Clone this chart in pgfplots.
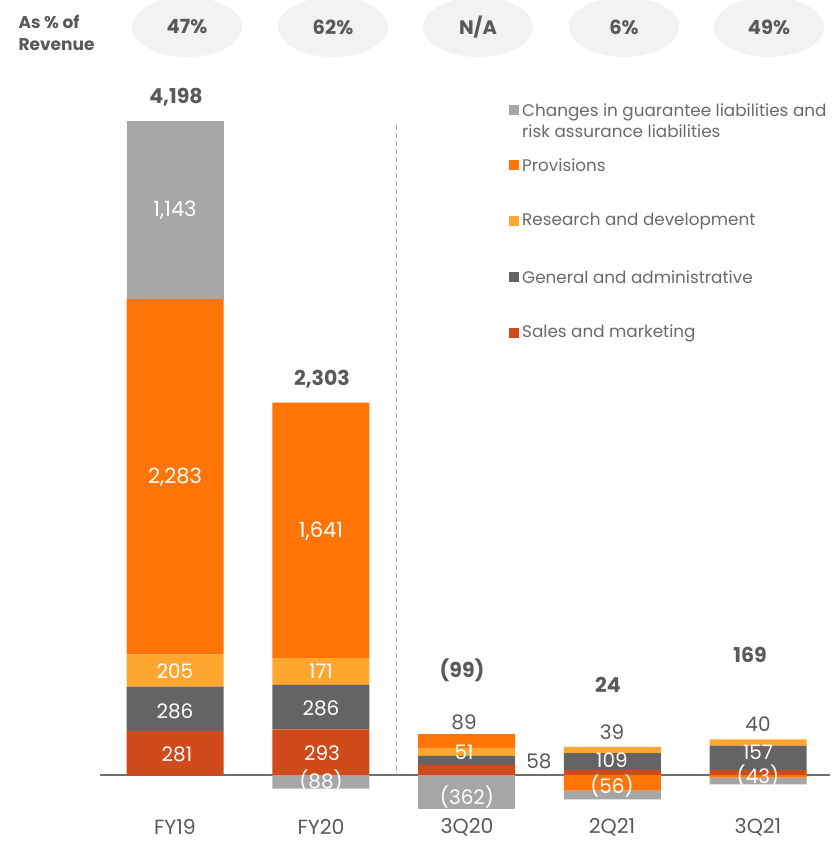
\documentclass[border=0pt]{standalone}
\usepackage{pgfplots}
\pgfplotsset{compat=1.18}
\usepackage{pgfplotstable}
\usepackage{fontspec}
\setmainfont{Poppins}
\definecolor{cChg}{HTML}{A6A6A6}
\definecolor{cProv}{HTML}{FF7407}
\definecolor{cRD}{HTML}{FFA62F}
\definecolor{cGA}{HTML}{646464}
\definecolor{cSM}{HTML}{D14A1B}
\definecolor{txt}{HTML}{595959}
\definecolor{legtxt}{HTML}{6A6A6A}
\definecolor{ell}{HTML}{F2F2F2}
\definecolor{base}{HTML}{6E6E6E}

\pgfplotstableread{
x sm ga rd prov chg
0 281 286 205 2283 1143
1 293 286 171 1641 0
2 65 58 51 89 0
3 32 109 39 0 0
4 32 157 40 0 0
}\pos
\pgfplotstableread{
x prov chg
0 0 0
1 0 -88
2 0 -362
3 -100 -56
4 -17 -43
}\negs

% pixel y 809 -> ymin, pixel y 0 -> ymax ; 6.419 units per pixel
\pgfplotsset{base/.style={scale only axis, width=730pt, height=809pt,
  xmin=-0.5146, xmax=4.494, ymin=-218.2, ymax=4974.8, hide axis,
  ybar stacked, bar width=97pt, clip=true}}

\newcommand{\wl}{\color{white}\fontsize{20}{24}\selectfont}
\newcommand{\wL}{\color{white}\fontsize{21}{24}\selectfont}
\newcommand{\gl}{\color{txt}\fontsize{20}{24}\selectfont}
\newcommand{\bl}{\color{txt}\bfseries\fontsize{20.5}{24}\selectfont}

\begin{document}
\begin{tikzpicture}
\begin{scope}[x=1pt,y=-1pt,shift={(-100pt,809pt)}]
  \draw[base, line width=1.6pt] (100,775) -- (830,775);
  \draw[cChg, line width=1pt, dash pattern=on 5pt off 3pt] (396,125) -- (396,775);
\end{scope}

\begin{axis}[base]
\addplot[fill=cSM, draw=none] table[x=x,y=sm]{\pos};
\addplot[fill=cGA, draw=none] table[x=x,y=ga]{\pos};
\addplot[fill=cRD, draw=none] table[x=x,y=rd]{\pos};
\addplot[fill=cProv, draw=none] table[x=x,y=prov]{\pos};
\addplot[fill=cChg, draw=none] table[x=x,y=chg]{\pos};
\end{axis}
\begin{axis}[base]
\addplot[fill=cProv, draw=none] table[x=x,y=prov]{\negs};
\addplot[fill=cChg, draw=none] table[x=x,y=chg]{\negs};
\end{axis}

\begin{scope}[x=1pt,y=-1pt,shift={(-100pt,809pt)}]
  % header
  \node[anchor=west, text=txt, font=\bfseries\fontsize{17}{20}\selectfont] at (15,22) {As \% of};
  \node[anchor=west, text=txt, font=\bfseries\fontsize{17}{20}\selectfont] at (15,45) {Revenue};
  \foreach \cx/\t in {187/{47\%},333/{62\%},478/{N/A},624/{6\%},769/{49\%}}{
    \fill[ell] (\cx,27) ellipse [x radius=55, y radius=30];
    \node[text=txt, font=\bfseries\fontsize{19.5}{22}\selectfont] at (\cx,27) {\t};
  }
  % totals
  \node[font=\bl] at (176,97) {4,198};
  \node[font=\bl] at (322,379) {2,303};
  \node[font=\bl] at (462,670) {(99)};
  \node[font=\bl] at (608,685) {24};
  \node[font=\bl] at (750,655) {169};
  % FY19
  \node[font=\wL] at (175,210) {1,143};
  \node[font=\wL] at (175,477) {2,283};
  \node[font=\wl] at (175,671) {205};
  \node[font=\wl] at (175,711) {286};
  \node[font=\wl] at (177,754) {281};
  % FY20
  \node[font=\wL] at (321,531) {1,641};
  \node[font=\wl] at (321,671) {171};
  \node[font=\wl] at (321,708) {286};
  \node[font=\wl] at (322,753) {293};
  \node[font=\wl] at (321,781) {(88)};
  % 3Q20
  \node[font=\gl] at (464,722) {89};
  \node[font=\wl] at (464,752) {51};
  \node[font=\gl] at (539,761) {58};
  \node[font=\wl] at (467,797) {(362)};
  % 2Q21
  \node[font=\gl] at (612,732) {39};
  \node[font=\wl] at (612,760) {109};
  \node[font=\wl] at (612,786) {(56)};
  % 3Q21
  \node[font=\gl] at (758,724) {40};
  \node[font=\wl] at (758,752) {157};
  \node[font=\wl] at (758,776) {(43)};
  % x labels
  \foreach \cx/\t in {175/FY19,321/FY20,467/3Q20,612/2Q21,758/3Q21}{
    \node[text=txt, font=\fontsize{20.5}{24}\selectfont] at (\cx,827) {\t};
  }
  % legend
  \foreach \yy/\c in {110/cChg,165/cProv,221/cRD,277/cGA,333/cSM}{
    \fill[\c] (509,\yy-5) rectangle (519,\yy+5);
  }
  \node[anchor=west, text=legtxt, font=\fontsize{16.8}{21}\selectfont, align=left, inner sep=3pt] at (519,120.5) {Changes in guarantee liabilities and\\risk assurance liabilities};
  \node[anchor=west, text=legtxt, font=\fontsize{16.8}{21}\selectfont, inner sep=3pt] at (519,165) {Provisions};
  \node[anchor=west, text=legtxt, font=\fontsize{16.8}{21}\selectfont, inner sep=3pt] at (519,221) {Research and development};
  \node[anchor=west, text=legtxt, font=\fontsize{16.8}{21}\selectfont, inner sep=3pt] at (519,277) {General and administrative};
  \node[anchor=west, text=legtxt, font=\fontsize{16.8}{21}\selectfont, inner sep=3pt] at (519,333) {Sales and marketing};
\end{scope}
\pgfresetboundingbox
\path[use as bounding box] (-100pt,-32pt) rectangle (739pt,809pt);
\end{tikzpicture}
\end{document}
